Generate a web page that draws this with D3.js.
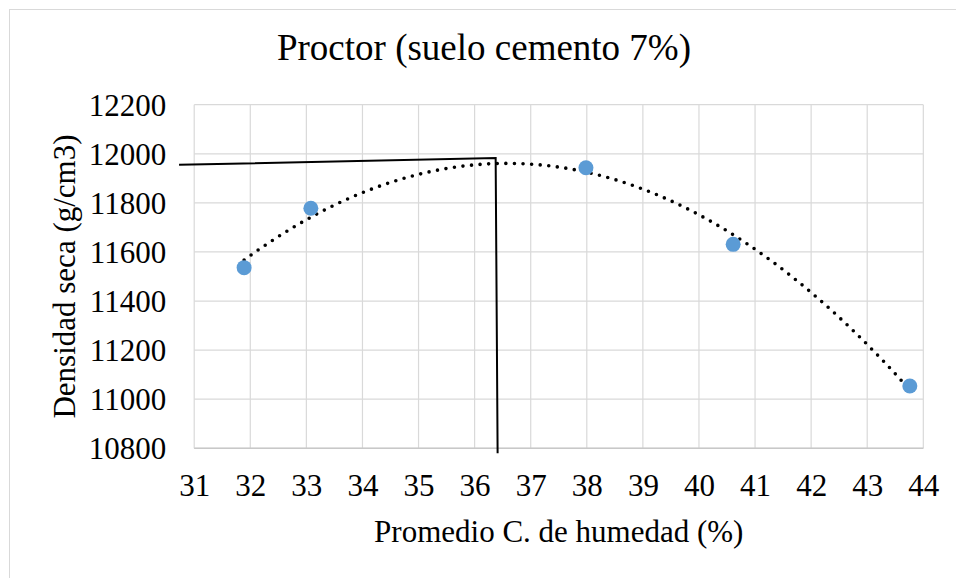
<!DOCTYPE html>
<html>
<head>
<meta charset="utf-8">
<script src="https://cdn.jsdelivr.net/npm/d3@7"></script>
<style>
  html, body { margin: 0; padding: 0; background: #fff; }
  svg { display: block; }
  text { font-family: "Liberation Serif", "Times New Roman", Times, serif; fill: #000; }
</style>
</head>
<body>
<svg id="chart" width="956" height="578"></svg>
<script>
// Proctor test: moisture content (%) vs dry density
const moisture = [31.89, 33.08, 37.985, 40.61, 43.76];
const density  = [11536, 11778, 11943, 11631, 11054];

const xTicks = [31, 32, 33, 34, 35, 36, 37, 38, 39, 40, 41, 42, 43, 44];
const yTicks = [10800, 11000, 11200, 11400, 11600, 11800, 12000, 12200];

// Hand-drawn guide marking the optimum (moisture, max density)
const guideX = [30.73, 36.375, 36.41];
const guideY = [11955, 11983, 10780];

const titleText = "Proctor (suelo cemento 7%)";
const xTitle = "Promedio C. de humedad (%)";
const yTitle = "Densidad seca (g/cm3)";

const FONT = '"Liberation Serif", "Times New Roman", Times, serif';
const svg = d3.select("#chart");
const W = 956, H = 578;

// chart frame (only top/left edges fall inside the view)
svg.append("rect")
  .attr("x", 9.5).attr("y", 9.5)
  .attr("width", W + 20).attr("height", H + 20)
  .attr("fill", "#fff").attr("stroke", "#d9d9d9").attr("stroke-width", 1);

const x = d3.scaleLinear().domain([31, 44]).range([194.2, 923.3]);
const y = d3.scaleLinear().domain([10800, 12200]).range([448.3, 104.7]);

// gridlines
const grid = svg.append("g").attr("stroke", "#d9d9d9").attr("stroke-width", 1.2);
grid.selectAll("line.v").data(xTicks).join("line")
  .attr("class", "v")
  .attr("x1", d => x(d)).attr("x2", d => x(d))
  .attr("y1", y(12200)).attr("y2", y(10800));
grid.selectAll("line.h").data(yTicks).join("line")
  .attr("class", "h")
  .attr("x1", x(31)).attr("x2", x(44))
  .attr("y1", d => y(d)).attr("y2", d => y(d));

// bottom axis line
svg.append("line")
  .attr("x1", x(31)).attr("x2", x(44))
  .attr("y1", y(10800)).attr("y2", y(10800))
  .attr("stroke", "#c8c8c8").attr("stroke-width", 1.4);

// axes via d3 (tick text only)
const xAxis = d3.axisBottom(x).tickValues(xTicks).tickFormat(d3.format("d")).tickSize(0).tickPadding(0);
const gx = svg.append("g").attr("transform", `translate(0,${y(10800)})`).call(xAxis)
  .attr("font-family", FONT);
gx.select(".domain").remove();
gx.selectAll("text")
  .attr("y", 48).attr("dy", null)
  .style("font-family", FONT)
  .style("font-size", "31px").attr("fill", "#000");

const yAxis = d3.axisLeft(y).tickValues(yTicks).tickFormat(d3.format("d")).tickSize(0).tickPadding(0);
const gy = svg.append("g").attr("transform", `translate(${x(31)},0)`).call(yAxis)
  .attr("font-family", FONT);
gy.select(".domain").remove();
gy.selectAll("text")
  .attr("x", -28).attr("dy", "0.34em")
  .style("font-family", FONT)
  .style("font-size", "31px").attr("fill", "#000");

// polynomial (order 2) least-squares trendline
function quadFit(xs, ys) {
  const n = xs.length;
  let s = [0, 0, 0, 0, 0], t = [0, 0, 0];
  for (let i = 0; i < n; i++) {
    let p = 1;
    for (let k = 0; k <= 4; k++) { s[k] += p; if (k <= 2) t[k] += p * ys[i]; p *= xs[i]; }
  }
  const A = [[s[0], s[1], s[2], t[0]], [s[1], s[2], s[3], t[1]], [s[2], s[3], s[4], t[2]]];
  for (let c = 0; c < 3; c++) {
    let piv = c;
    for (let r = c + 1; r < 3; r++) if (Math.abs(A[r][c]) > Math.abs(A[piv][c])) piv = r;
    [A[c], A[piv]] = [A[piv], A[c]];
    for (let r = 0; r < 3; r++) {
      if (r === c) continue;
      const f = A[r][c] / A[c][c];
      for (let k = c; k < 4; k++) A[r][k] -= f * A[c][k];
    }
  }
  return [A[0][3] / A[0][0], A[1][3] / A[1][1], A[2][3] / A[2][2]];
}
const [c0, c1, c2] = quadFit(moisture, density);
const x0 = d3.min(moisture), x1 = d3.max(moisture);
const trend = d3.range(0, 201).map(i => {
  const xv = x0 + (x1 - x0) * i / 200;
  return [xv, c0 + c1 * xv + c2 * xv * xv];
});
svg.append("path")
  .datum(trend)
  .attr("d", d3.line().x(d => x(d[0])).y(d => y(d[1])))
  .attr("fill", "none").attr("stroke", "#000").attr("stroke-width", 3.6)
  .attr("stroke-linecap", "round").attr("stroke-dasharray", "0 8.6");

// data points
svg.append("g").selectAll("circle").data(moisture).join("circle")
  .attr("cx", d => x(d)).attr("cy", (d, i) => y(density[i]))
  .attr("r", 7.5).attr("fill", "#5b9bd5");

// optimum guide lines
const guidePts = guideX.map((d, i) => [d, guideY[i]]);
svg.append("path")
  .datum(guidePts)
  .attr("d", d3.line().x(d => x(d[0])).y(d => y(d[1])))
  .attr("fill", "none").attr("stroke", "#000").attr("stroke-width", 2);

// titles
svg.append("text")
  .attr("x", 484).attr("y", 60).attr("text-anchor", "middle")
  .style("font-size", "37px").text(titleText);

svg.append("text")
  .attr("x", (x(31) + x(44)) / 2).attr("y", 541.5).attr("text-anchor", "middle")
  .style("font-size", "31px").text(xTitle);

svg.append("text")
  .attr("transform", `translate(75,${(y(10800) + y(12200)) / 2}) rotate(-90)`)
  .attr("text-anchor", "middle")
  .style("font-size", "31px").text(yTitle);
</script>
</body>
</html>
